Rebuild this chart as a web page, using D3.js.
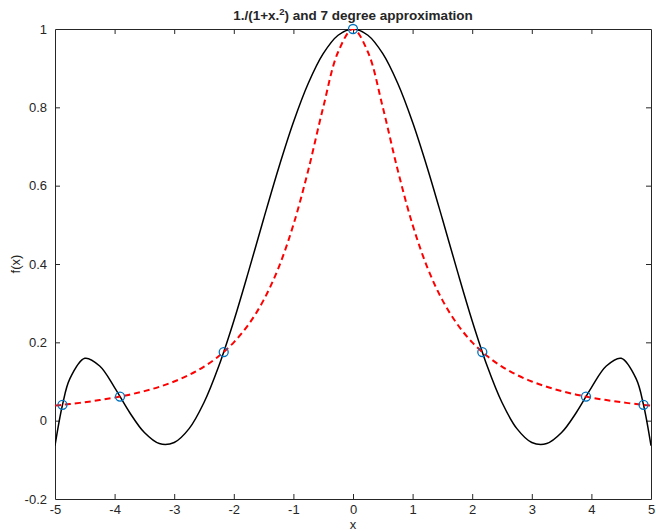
<!DOCTYPE html>
<html>
<head>
<meta charset="utf-8">
<script src="https://d3js.org/d3.v7.min.js"></script>
<style>
  body { margin: 0; background: #fff; }
  text { font-family: "Liberation Sans", Arial, Helvetica, sans-serif; fill: #262626; }
  .tick text { font-size: 13px; }
</style>
</head>
<body>
<div id="chart"></div>
<script>
// sample x positions
var xs = [-5, -4.875, -4.75, -4.5, -4.25, -4, -3.75, -3.5, -3.25, -3, -2.75, -2.5, -2.25, -2, -1.75, -1.5, -1.25, -1, -0.75, -0.5, -0.25,
          0, 0.25, 0.5, 0.75, 1, 1.25, 1.5, 1.75, 2, 2.25, 2.5, 2.75, 3, 3.25, 3.5, 3.75, 4, 4.25, 4.5, 4.75, 4.875, 5];

// 1./(1+x.^2) (red dashed)
var fVals = [0.0385, 0.0404, 0.0424, 0.0471, 0.0525, 0.0588, 0.0664, 0.0755, 0.0865, 0.1000, 0.1168, 0.1379, 0.1650, 0.2000, 0.2462, 0.3077, 0.3902, 0.5000, 0.6400, 0.8000, 0.9412,
             1.0000, 0.9412, 0.8000, 0.6400, 0.5000, 0.3902, 0.3077, 0.2462, 0.2000, 0.1650, 0.1379, 0.1168, 0.1000, 0.0865, 0.0755, 0.0664, 0.0588, 0.0525, 0.0471, 0.0424, 0.0404, 0.0385];

// degree approximation (black)
var pVals = [-0.0638, 0.0399, 0.1072, 0.1592, 0.1395, 0.0845, 0.0214, -0.0304, -0.0585, -0.0558, -0.0204, 0.0464, 0.1402, 0.2547, 0.3824, 0.5149, 0.6440, 0.7619, 0.8614, 0.9369, 0.9840,
             1.0000, 0.9840, 0.9369, 0.8614, 0.7619, 0.6440, 0.5149, 0.3824, 0.2547, 0.1402, 0.0464, -0.0204, -0.0558, -0.0585, -0.0304, 0.0214, 0.0845, 0.1395, 0.1592, 0.1072, 0.0399, -0.0638];

// interpolation nodes
var nodeX = [-4.8746, -3.9092, -2.1694, 0, 2.1694, 3.9092, 4.8746];
var nodeY = [0.0404, 0.0614, 0.1752, 1.0000, 0.1752, 0.0614, 0.0404];

var xTicks = [-5, -4, -3, -2, -1, 0, 1, 2, 3, 4, 5];
var yTicks = [-0.2, 0, 0.2, 0.4, 0.6, 0.8, 1];

var W = 656, H = 531;
var margin = {top: 29, right: 5, bottom: 32, left: 55};
var w = W - margin.left - margin.right;
var h = H - margin.top - margin.bottom;

var svg = d3.select("#chart").append("svg")
    .attr("width", W)
    .attr("height", H);

var g = svg.append("g").attr("transform", "translate(" + margin.left + "," + margin.top + ")");

var x = d3.scaleLinear().domain([-5, 5]).range([0, w]);
var y = d3.scaleLinear().domain([-0.2, 1]).range([h, 0]);

var axisColor = "#262626";
// plain hyphen minus like matlab
var fmt = function(d){ return String(d); };

// axes (ticks inward, box on)
var xb = g.append("g").attr("transform", "translate(0," + h + ")")
    .call(d3.axisBottom(x).tickValues(xTicks).tickSizeInner(-5).tickSizeOuter(0).tickPadding(6).tickFormat(fmt));
var xt = g.append("g")
    .call(d3.axisTop(x).tickValues(xTicks).tickSizeInner(-5).tickSizeOuter(0).tickFormat(""));
var yl = g.append("g")
    .call(d3.axisLeft(y).tickValues(yTicks).tickSizeInner(-5).tickSizeOuter(0).tickPadding(8).tickFormat(fmt));
var yr = g.append("g").attr("transform", "translate(" + w + ",0)")
    .call(d3.axisRight(y).tickValues(yTicks).tickSizeInner(-5).tickSizeOuter(0).tickFormat(""));

[xb, xt, yl, yr].forEach(function(a){
    a.select(".domain").attr("stroke", axisColor).attr("stroke-width", 1);
    a.selectAll(".tick line").attr("stroke", axisColor);
    a.selectAll(".tick text").attr("fill", axisColor);
});
xt.selectAll(".tick").filter(function(d){ return d === -5 || d === 5; }).remove();
xb.selectAll(".tick line").filter(function(d){ return d === -5 || d === 5; }).remove();
yl.selectAll(".tick line").filter(function(d){ return d === -0.2 || d === 1; }).remove();
yr.selectAll(".tick").filter(function(d){ return d === -0.2 || d === 1; }).remove();

var clip = g.append("clipPath").attr("id", "clip").append("rect")
    .attr("width", w).attr("height", h);

var line = d3.line()
    .x(function(d){ return x(d[0]); })
    .y(function(d){ return y(d[1]); })
    .curve(d3.curveCatmullRom.alpha(0.5));

var plot = g.append("g").attr("clip-path", "url(#clip)");

plot.append("path")
    .datum(xs.map(function(v, i){ return [v, pVals[i]]; }))
    .attr("d", line)
    .attr("fill", "none")
    .attr("stroke", "#000")
    .attr("stroke-width", 1.5);

plot.append("path")
    .datum(xs.map(function(v, i){ return [v, fVals[i]]; }))
    .attr("d", line)
    .attr("fill", "none")
    .attr("stroke", "#ff0000")
    .attr("stroke-width", 2)
    .attr("stroke-dasharray", "6,4");

g.selectAll("circle.node")
    .data(nodeX.map(function(v, i){ return [v, nodeY[i]]; }))
    .enter().append("circle")
    .attr("class", "node")
    .attr("cx", function(d){ return x(d[0]); })
    .attr("cy", function(d){ return y(d[1]); })
    .attr("r", 4.5)
    .attr("fill", "none")
    .attr("stroke", "#0072BD")
    .attr("stroke-width", 1.3);

// title
var title = svg.append("text")
    .attr("x", margin.left + w / 2)
    .attr("y", 20)
    .attr("text-anchor", "middle")
    .style("font-size", "13.5px")
    .style("font-weight", "bold")
    .attr("fill", "#000");
title.append("tspan").text("1./(1+x.");
title.append("tspan").attr("dy", -5).style("font-size", "9.5px").text("2");
title.append("tspan").attr("dy", 5).text(") and 7 degree approximation");

// axis labels
svg.append("text")
    .attr("x", margin.left + w / 2)
    .attr("y", 529)
    .attr("text-anchor", "middle")
    .style("font-size", "13px")
    .text("x");

svg.append("text")
    .attr("transform", "translate(20," + (margin.top + h / 2) + ") rotate(-90)")
    .attr("text-anchor", "middle")
    .style("font-size", "13px")
    .text("f(x)");
</script>
</body>
</html>
